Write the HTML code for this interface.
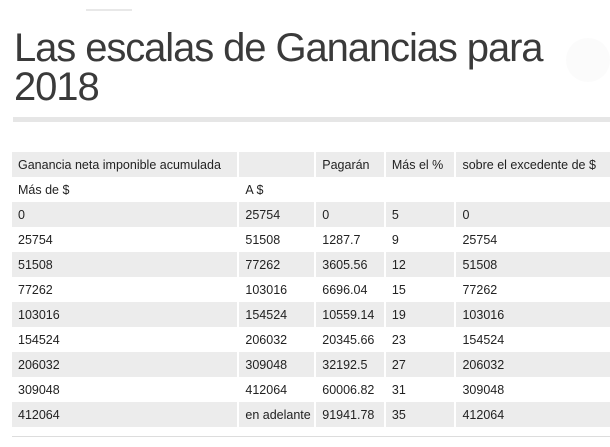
<!DOCTYPE html>
<html><head><meta charset="utf-8"><style>
body{margin:0;width:610px;height:447px;background:#fff;overflow:hidden;position:relative;font-family:"Liberation Sans",sans-serif;color:#333}
.tl{position:absolute;left:86px;top:9px;width:46px;height:2px;background:#e8e8e8}
h1{position:absolute;left:14px;top:29px;margin:0;font-weight:normal;font-size:40px;line-height:39px;color:#3a3a3a;letter-spacing:-1.1px}
.bar{position:absolute;left:13px;top:117px;width:600px;height:5px;background:#e6e6e6}
.circ{position:absolute;left:566px;top:38px;width:44px;height:44px;border-radius:50%;background:#fbfbfb}
table{position:absolute;left:12px;top:152px;border-collapse:collapse;font-size:12.5px;color:#222}
td{height:25px;padding:0 0 0 6px;border-left:2px solid #fff;white-space:nowrap;box-sizing:border-box}
td:first-child{border-left:0}
tr.g td{background:#ececec}
.bl{position:absolute;left:12px;top:436px;width:600px;height:1px;background:#ddd}
</style></head><body>
<div class="tl"></div>
<div class="circ"></div>
<h1>Las escalas de Ganancias para<br>2018</h1>
<div class="bar"></div>
<table>
<colgroup><col style="width:227px"><col style="width:77px"><col style="width:70px"><col style="width:71px"><col style="width:155px"></colgroup>
<tr class="g"><td>Ganancia neta imponible acumulada</td><td></td><td>Pagarán</td><td>Más el %</td><td>sobre el excedente de $</td></tr>
<tr><td>Más de $</td><td>A $</td><td></td><td></td><td></td></tr>
<tr class="g"><td>0</td><td>25754</td><td>0</td><td>5</td><td>0</td></tr>
<tr><td>25754</td><td>51508</td><td>1287.7</td><td>9</td><td>25754</td></tr>
<tr class="g"><td>51508</td><td>77262</td><td>3605.56</td><td>12</td><td>51508</td></tr>
<tr><td>77262</td><td>103016</td><td>6696.04</td><td>15</td><td>77262</td></tr>
<tr class="g"><td>103016</td><td>154524</td><td>10559.14</td><td>19</td><td>103016</td></tr>
<tr><td>154524</td><td>206032</td><td>20345.66</td><td>23</td><td>154524</td></tr>
<tr class="g"><td>206032</td><td>309048</td><td>32192.5</td><td>27</td><td>206032</td></tr>
<tr><td>309048</td><td>412064</td><td>60006.82</td><td>31</td><td>309048</td></tr>
<tr class="g"><td>412064</td><td>en adelante</td><td>91941.78</td><td>35</td><td>412064</td></tr>
</table>
<div class="bl"></div>
</body></html>
